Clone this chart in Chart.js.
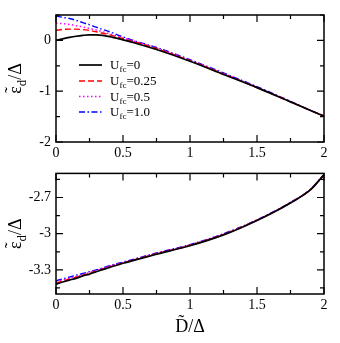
<!DOCTYPE html>
<html>
<head>
<meta charset="utf-8">
<script src="https://cdn.jsdelivr.net/npm/chart.js@4"></script>
<style>
  html, body { margin: 0; padding: 0; background: #fff; }
  #wrap { position: relative; width: 340px; height: 343px; }
  canvas { position: absolute; left: 0; }
  #topChart { top: 0; }
  #bottomChart { top: 160px; }
</style>
</head>
<body>
<div id="wrap">
  <canvas id="topChart" width="340" height="160"></canvas>
  <canvas id="bottomChart" width="340" height="183"></canvas>
</div>
<script>
// D/Delta sample points
const dValues = [0, 0.05, 0.1, 0.15, 0.2, 0.25, 0.3, 0.4, 0.5, 0.6, 0.75, 1, 1.25, 1.5, 1.75, 1.9, 2];

// upper panel
const topU0   = [0.0, 0.03, 0.058, 0.082, 0.10, 0.11, 0.108, 0.075, 0.01, -0.06, -0.18, -0.41, -0.67, -0.93, -1.21, -1.38, -1.49];
const topU025 = [0.20, 0.215, 0.222, 0.222, 0.212, 0.195, 0.17, 0.11, 0.035, -0.04, -0.16, -0.40, -0.66, -0.93, -1.21, -1.38, -1.49];
const topU05  = [0.34, 0.33, 0.315, 0.29, 0.265, 0.235, 0.205, 0.13, 0.05, -0.03, -0.15, -0.39, -0.65, -0.92, -1.20, -1.38, -1.49];
const topU1   = [0.48, 0.455, 0.43, 0.395, 0.35, 0.31, 0.26, 0.17, 0.07, -0.02, -0.14, -0.38, -0.64, -0.91, -1.20, -1.38, -1.49];

// lower panel
const botU0   = [-3.42, -3.40, -3.385, -3.37, -3.35, -3.335, -3.315, -3.28, -3.245, -3.215, -3.17, -3.10, -3.01, -2.89, -2.745, -2.635, -2.51];
const botU025 = [-3.41, -3.393, -3.377, -3.362, -3.344, -3.328, -3.31, -3.275, -3.242, -3.211, -3.166, -3.096, -3.006, -2.888, -2.743, -2.633, -2.51];
const botU05  = [-3.40, -3.385, -3.37, -3.355, -3.338, -3.322, -3.305, -3.27, -3.238, -3.208, -3.163, -3.093, -3.003, -2.887, -2.742, -2.632, -2.51];
const botU1   = [-3.39, -3.375, -3.36, -3.345, -3.33, -3.315, -3.30, -3.265, -3.235, -3.205, -3.16, -3.09, -3.00, -2.885, -2.74, -2.63, -2.51];

const seriesLabels = ['0', '0.25', '0.5', '1.0'];

const xTickValues = [0, 0.5, 1, 1.5, 2];
const xTickLabels = ['0', '0.5', '1', '1.5', '2'];
const topYTickValues = [0, -1, -2];
const topYTickLabels = ['0', '-1', '-2'];
const botYTicks = [-3.45, -3.3, -3.15, -3.0, -2.85, -2.7, -2.55];
const botYTickValues = [-3.3, -3.0, -2.7];
const botYTickLabels = ['-3.3', '-3', '-2.7'];

const serif = "'Liberation Serif', 'Times New Roman', serif";
const styles = [
  { color: '#000000', dash: [], width: 1.7 },
  { color: '#ff0000', dash: [6, 3], width: 1.4 },
  { color: '#ff00ff', dash: [1.5, 2.5], width: 1.5 },
  { color: '#0000ff', dash: [6, 2.5, 1.5, 2.5], width: 1.4 }
];

function labelFor(values, labels, v) {
  for (let i = 0; i < values.length; i++) {
    if (Math.abs(values[i] - v) < 1e-6) return labels[i];
  }
  return '';
}

function makeDatasets(seriesList) {
  return seriesList.map((ys, i) => ({
    label: 'U_fc=' + seriesLabels[i],
    data: dValues.map((d, j) => ({ x: d, y: ys[j] })),
    borderColor: styles[i].color,
    borderDash: styles[i].dash,
    borderWidth: styles[i].width,
    pointRadius: 0,
    fill: false,
    cubicInterpolationMode: 'monotone'
  }));
}

// frame with inward ticks on all four sides, y title, legend
const framePlugin = {
  id: 'frame',
  afterDraw(chart, args, opts) {
    const ctx = chart.ctx;
    const { left, right, top, bottom } = chart.chartArea;
    const xs = chart.scales.x, ys = chart.scales.y;
    ctx.save();
    ctx.strokeStyle = '#000';
    ctx.lineWidth = 1.5;
    ctx.setLineDash([]);
    ctx.strokeRect(left, top, right - left, bottom - top);
    ctx.lineWidth = 1.2;
    xs.ticks.forEach(t => {
      const px = xs.getPixelForValue(t.value);
      const len = t.label !== '' ? 7 : 4;
      ctx.beginPath();
      ctx.moveTo(px, bottom); ctx.lineTo(px, bottom - len);
      ctx.moveTo(px, top); ctx.lineTo(px, top + len);
      ctx.stroke();
    });
    ys.ticks.forEach(t => {
      const py = ys.getPixelForValue(t.value);
      const len = t.label !== '' ? 7 : 4;
      ctx.beginPath();
      ctx.moveTo(left, py); ctx.lineTo(left + len, py);
      ctx.moveTo(right, py); ctx.lineTo(right - len, py);
      ctx.stroke();
    });

    // y axis title: eps~_d / Delta
    ctx.fillStyle = '#000';
    ctx.translate(21, (top + bottom) / 2);
    ctx.rotate(-Math.PI / 2);
    ctx.textBaseline = 'alphabetic';
    ctx.textAlign = 'left';
    const big = '18px ' + serif, small = '13px ' + serif;
    ctx.font = big;
    const wE = ctx.measureText('\u03b5').width;
    ctx.font = small;
    const wD = ctx.measureText('d').width;
    ctx.font = big;
    const wR = ctx.measureText('/\u0394').width;
    let x0 = -(wE + wD + wR) / 2;
    ctx.fillText('\u03b5', x0, 0);
    ctx.textAlign = 'center';
    ctx.fillText('\u02dc', x0 + wE / 2, -3);
    ctx.textAlign = 'left';
    ctx.font = small;
    ctx.fillText('d', x0 + wE, 5);
    ctx.font = big;
    ctx.fillText('/\u0394', x0 + wE + wD, 0);
    ctx.restore();

    if (opts.legend) {
      ctx.save();
      const rows = [65, 81, 96.5, 112];
      chart.data.datasets.forEach((ds, i) => {
        const y = rows[i];
        ctx.strokeStyle = ds.borderColor;
        ctx.lineWidth = ds.borderWidth;
        ctx.setLineDash(ds.borderDash);
        ctx.beginPath();
        ctx.moveTo(79, y); ctx.lineTo(102, y);
        ctx.stroke();
        ctx.fillStyle = '#000';
        ctx.textBaseline = 'alphabetic';
        ctx.font = '13px ' + serif;
        ctx.fillText('U', 110, y + 4);
        const wU = ctx.measureText('U').width;
        ctx.font = '9px ' + serif;
        ctx.fillText('fc', 110 + wU, y + 7);
        const wF = ctx.measureText('fc').width;
        ctx.font = '13px ' + serif;
        ctx.fillText('=' + seriesLabels[i], 110 + wU + wF, y + 4);
      });
      ctx.restore();
    }
  }
};

function makeChart(id, datasets, yScale, padTop, xHeight, xTitle, legend) {
  return new Chart(document.getElementById(id).getContext('2d'), {
    type: 'line',
    data: { datasets: datasets },
    plugins: [framePlugin],
    options: {
      responsive: false,
      animation: false,
      events: [],
      layout: { padding: { top: padTop, right: 16, left: 0, bottom: 0 } },
      plugins: {
        legend: { display: false },
        tooltip: { enabled: false },
        frame: { legend: legend }
      },
      scales: {
        x: {
          type: 'linear',
          min: 0,
          max: 2,
          grid: { display: false, drawTicks: false },
          border: { display: false },
          ticks: {
            stepSize: 0.25,
            autoSkip: false,
            maxRotation: 0,
            padding: 3,
            color: '#000',
            font: { family: serif, size: 14 },
            callback: v => labelFor(xTickValues, xTickLabels, v)
          },
          title: {
            display: xTitle,
            text: 'D\u0303/\u0394',
            color: '#000',
            font: { family: serif, size: 18 },
            padding: { top: 0, bottom: 5 }
          },
          afterFit: s => { s.height = xHeight; }
        },
        y: yScale
      }
    }
  });
}

const yBase = {
  type: 'linear',
  grid: { display: false, drawTicks: false },
  border: { display: false },
  afterFit: s => { s.width = 56; }
};

makeChart('topChart', makeDatasets([topU0, topU025, topU05, topU1]), Object.assign({}, yBase, {
  min: -2,
  max: 0.5,
  ticks: {
    stepSize: 0.5,
    autoSkip: false,
    padding: 5,
    color: '#000',
    font: { family: serif, size: 14 },
    callback: v => labelFor(topYTickValues, topYTickLabels, v)
  }
}), 15, 18, false, true);

makeChart('bottomChart', makeDatasets([botU0, botU025, botU05, botU1]), Object.assign({}, yBase, {
  min: -3.5,
  max: -2.5,
  afterBuildTicks: s => { s.ticks = botYTicks.map(v => ({ value: v })); },
  ticks: {
    autoSkip: false,
    padding: 5,
    color: '#000',
    font: { family: serif, size: 14 },
    callback: v => labelFor(botYTickValues, botYTickLabels, v)
  }
}), 7, 49, true, false);
</script>
</body>
</html>
